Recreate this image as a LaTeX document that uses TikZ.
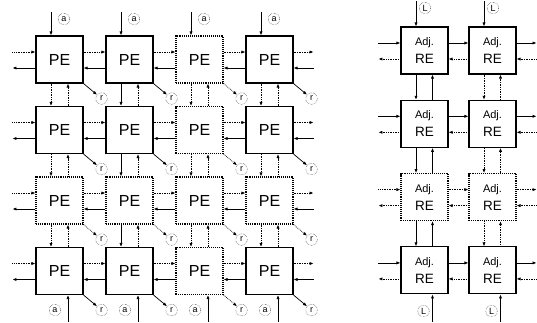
\documentclass[tikz,border=0pt]{standalone}
\usepackage{fontspec}
\setmainfont{Liberation Sans}
\usetikzlibrary{arrows.meta}
\tikzset{
  pebox/.style={draw, line width=1.1pt, minimum size=47pt, inner sep=0pt, font=\fontsize{16}{18}\selectfont},
  pedot/.style={pebox, densely dotted},
  rebox/.style={pebox, align=center, font=\fontsize{11}{18}\selectfont},
  redot/.style={rebox, densely dotted},
  wire/.style={line width=0.7pt, -{Latex[length=4pt,width=3.2pt]}},
  wired/.style={wire, densely dotted},
  tag/.style={draw, circle, densely dotted, line width=0.4pt, inner sep=0pt, minimum size=11.5pt, font=\fontsize{9}{9}\selectfont}
}

\begin{document}
\begin{tikzpicture}[x=1pt, y=-1pt]
  \useasboundingbox (0,0) rectangle (537,322);

  % PE array
  \foreach \r in {1,...,4}
    \foreach \c in {1,...,4} {
      \def\st{pebox}\def\ln{wire}
      \ifnum\r=3 \def\st{pedot}\def\ln{wired}\fi
      \ifnum\c=3 \def\st{pedot}\def\ln{wired}\fi
      \node[\st] (pe-\r-\c) at ({59.5+70*(\c-1)}, {59.5+70.5*(\r-1)}) {PE};
      \node[tag] (rt-\r-\c) at ([xshift=18pt,yshift=-15pt]pe-\r-\c.south east) {r};
      \draw[\ln] (pe-\r-\c.south east) -- (rt-\r-\c);
    }
  \foreach \r in {1,...,4} {
    \foreach \c [evaluate=\c as \cc using int(\c+1)] in {1,2,3} {
      \draw[wired] ([yshift=7.5pt]pe-\r-\c.east) -- ([yshift=7.5pt]pe-\r-\cc.west);
      \draw[wire] ([yshift=-8.5pt]pe-\r-\cc.west) -- ([yshift=-8.5pt]pe-\r-\c.east);
    }
    \coordinate (wl-\r) at ([xshift=-23pt]pe-\r-1.west);
    \coordinate (wr-\r) at ([xshift=20pt]pe-\r-4.east);
    \draw[wired] ([yshift=7.5pt]wl-\r) -- ([yshift=7.5pt]pe-\r-1.west);
    \draw[wire] ([yshift=-8.5pt]pe-\r-1.west) -- ([yshift=-8.5pt]wl-\r);
    \draw[wired] ([yshift=7.5pt]pe-\r-4.east) -- ([yshift=7.5pt]wr-\r);
    \draw[wire] ([yshift=-8.5pt]wr-\r) -- ([yshift=-8.5pt]pe-\r-4.east);
  }
  \foreach \c in {1,...,4} {
    \def\ln{wired}
    \ifnum\c=2 \def\ln{wire}\fi
    \foreach \r [evaluate=\r as \rr using int(\r+1)] in {1,2,3} {
      \draw[\ln] ([xshift=-8.5pt]pe-\r-\c.south) -- ([xshift=-8.5pt]pe-\rr-\c.north);
      \draw[wired] ([xshift=8.5pt]pe-\rr-\c.north) -- ([xshift=8.5pt]pe-\r-\c.south);
    }
    \coordinate (tin-\c) at ({51+70*(\c-1)}, 12);
    \coordinate (bin-\c) at ({68+70*(\c-1)}, 322);
    \draw[wire] (tin-\c) -- ([xshift=-8.5pt]pe-1-\c.north);
    \draw[wire] (bin-\c) -- ([xshift=8.5pt]pe-4-\c.south);
    \node[tag] (ta-\c) at ({64+70*(\c-1)}, 19) {a};
    \node[tag] (ba-\c) at ({55+70*(\c-1)}, 310) {a};
  }

  % Adj. RE array
  \foreach \r in {1,...,4}
    \foreach \c in {1,2} {
      \def\st{rebox}
      \ifnum\r=3 \def\st{redot}\fi
      \node[\st] (re-\r-\c) at ({424.5+68*(\c-1)}, {50.5+73.3*(\r-1)}) {Adj.\\\fontsize{13.5}{18}\selectfont RE};
    }
  \foreach \r in {1,...,4} {
    \def\ln{wire}
    \ifnum\r=3 \def\ln{wired}\fi
    \draw[\ln] ([yshift=7.5pt]re-\r-1.east) -- ([yshift=7.5pt]re-\r-2.west);
    \draw[wired] ([yshift=-8.5pt]re-\r-2.west) -- ([yshift=-8.5pt]re-\r-1.east);
    \coordinate (vl-\r) at ([xshift=-22pt]re-\r-1.west);
    \coordinate (vr-\r) at ([xshift=20pt]re-\r-2.east);
    \draw[\ln] ([yshift=7.5pt]vl-\r) -- ([yshift=7.5pt]re-\r-1.west);
    \draw[wired] ([yshift=-8.5pt]re-\r-1.west) -- ([yshift=-8.5pt]vl-\r);
    \draw[\ln] ([yshift=7.5pt]re-\r-2.east) -- ([yshift=7.5pt]vr-\r);
    \draw[wired] ([yshift=-8.5pt]vr-\r) -- ([yshift=-8.5pt]re-\r-2.east);
  }
  \foreach \c in {1,2} {
    \def\ln{wire}
    \ifnum\c=2 \def\ln{wired}\fi
    \foreach \r [evaluate=\r as \rr using int(\r+1)] in {1,2,3} {
      \draw[\ln] ([xshift=-8.5pt]re-\r-\c.south) -- ([xshift=-8.5pt]re-\rr-\c.north);
      \draw[\ln] ([xshift=8pt]re-\rr-\c.north) -- ([xshift=8pt]re-\r-\c.south);
    }
    \coordinate (uin-\c) at ({416+68*(\c-1)}, 1);
    \coordinate (din-\c) at ({432.5+68*(\c-1)}, 322);
    \draw[wire] (uin-\c) -- ([xshift=-8.5pt]re-1-\c.north);
    \draw[wire] (din-\c) -- ([xshift=8pt]re-4-\c.south);
    \node[tag] (tl-\c) at ({425+68*(\c-1)}, 8) {L};
    \node[tag] (bl-\c) at ({423.5+68*(\c-1)}, 311) {L};
  }
\end{tikzpicture}
\end{document}
